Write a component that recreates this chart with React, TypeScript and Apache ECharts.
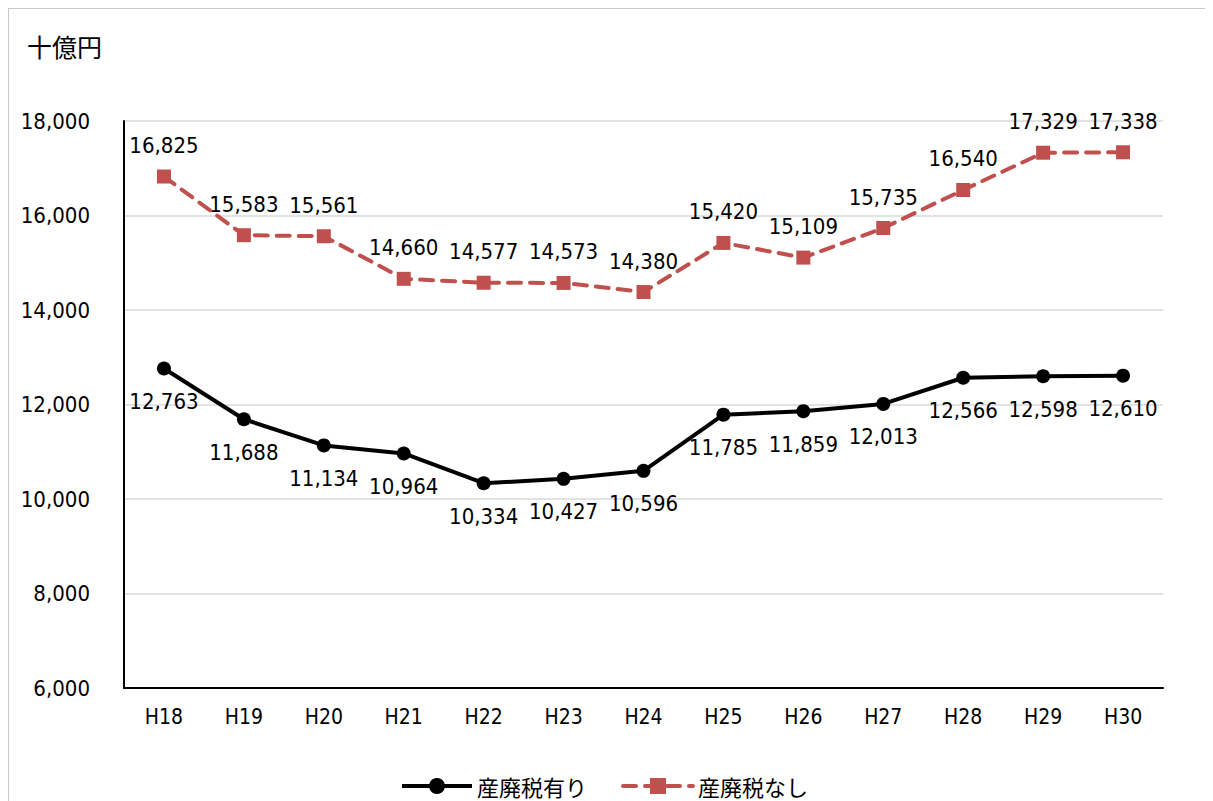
import React, { useEffect, useRef } from "react";
import * as echarts from "echarts";

const categories = ["H18", "H19", "H20", "H21", "H22", "H23", "H24", "H25", "H26", "H27", "H28", "H29", "H30"];
const withTax = [12763, 11688, 11134, 10964, 10334, 10427, 10596, 11785, 11859, 12013, 12566, 12598, 12610];
const withoutTax = [16825, 15583, 15561, 14660, 14577, 14573, 14380, 15420, 15109, 15735, 16540, 17329, 17338];
const seriesNames = ["産廃税有り", "産廃税なし"];
const unitLabel = "十億円";

const FONT = '"DejaVu Sans Condensed", "Liberation Sans Narrow", "Noto Sans CJK JP", sans-serif';
const CJK = '"Noto Sans CJK JP", sans-serif';

const fmt = (v: number) => v.toLocaleString("en-US");

export default function App() {
  const ref = useRef<HTMLDivElement>(null);
  useEffect(() => {
    if (!ref.current) return;
    const chart = echarts.init(ref.current, null, { renderer: "svg" });
    chart.setOption({
      animation: false,
      backgroundColor: "#ffffff",
      graphic: [
        {
          type: "text",
          left: 18,
          top: 24,
          style: { text: unitLabel, font: `25px ${CJK}`, fill: "#000" },
        },
      ],
      legend: {
        left: 386,
        top: 760,
        itemWidth: 70,
        itemHeight: 20,
        itemGap: 34,
        textStyle: { fontFamily: CJK, fontSize: 22, lineHeight: 24, color: "#000" },
        data: [
          { name: seriesNames[0], lineStyle: { width: 4 } },
          { name: seriesNames[1], lineStyle: { width: 4 } },
        ],
      },
      grid: { left: 115, top: 112, right: 50, bottom: 113, containLabel: false },
      xAxis: {
        type: "category",
        data: categories,
        boundaryGap: true,
        axisLine: { lineStyle: { color: "#000", width: 2 } },
        axisTick: { show: false },
        axisLabel: { color: "#000", fontFamily: FONT, fontSize: 21, margin: 18 },
      },
      yAxis: {
        type: "value",
        min: 6000,
        max: 18000,
        interval: 2000,
        axisLine: { show: true, lineStyle: { color: "#000", width: 2 } },
        axisTick: { show: false },
        splitLine: { lineStyle: { color: "#d9d9d9", width: 1.5 } },
        axisLabel: {
          color: "#000",
          fontFamily: FONT,
          fontSize: 22,
          margin: 34,
          formatter: (v: number) => fmt(v),
        },
      },
      series: [
        {
          name: seriesNames[0],
          type: "line",
          data: withTax,
          symbol: "circle",
          symbolSize: 14,
          itemStyle: { color: "#000" },
          lineStyle: { color: "#000", width: 4 },
          label: {
            show: true,
            position: "bottom",
            distance: 15,
            color: "#000",
            fontFamily: FONT,
            fontSize: 22,
            formatter: (p: any) => fmt(p.value),
          },
        },
        {
          name: seriesNames[1],
          type: "line",
          data: withoutTax,
          symbol: "rect",
          symbolSize: 14,
          itemStyle: { color: "#c0504d" },
          lineStyle: { color: "#c0504d", width: 4, type: [13, 9], cap: "round" },
          label: {
            show: true,
            position: "top",
            distance: 13,
            color: "#000",
            fontFamily: FONT,
            fontSize: 22,
            formatter: (p: any) => fmt(p.value),
          },
        },
      ],
    });
    return () => chart.dispose();
  }, []);
  return (
    <div
      style={{
        position: "relative",
        width: 1205,
        height: 793,
        borderTop: "1px solid #c8c8c8",
        borderLeft: "1px solid #c8c8c8",
        boxSizing: "border-box",
      }}
    >
      <div ref={ref} style={{ width: 1204, height: 792 }} />
    </div>
  );
}
